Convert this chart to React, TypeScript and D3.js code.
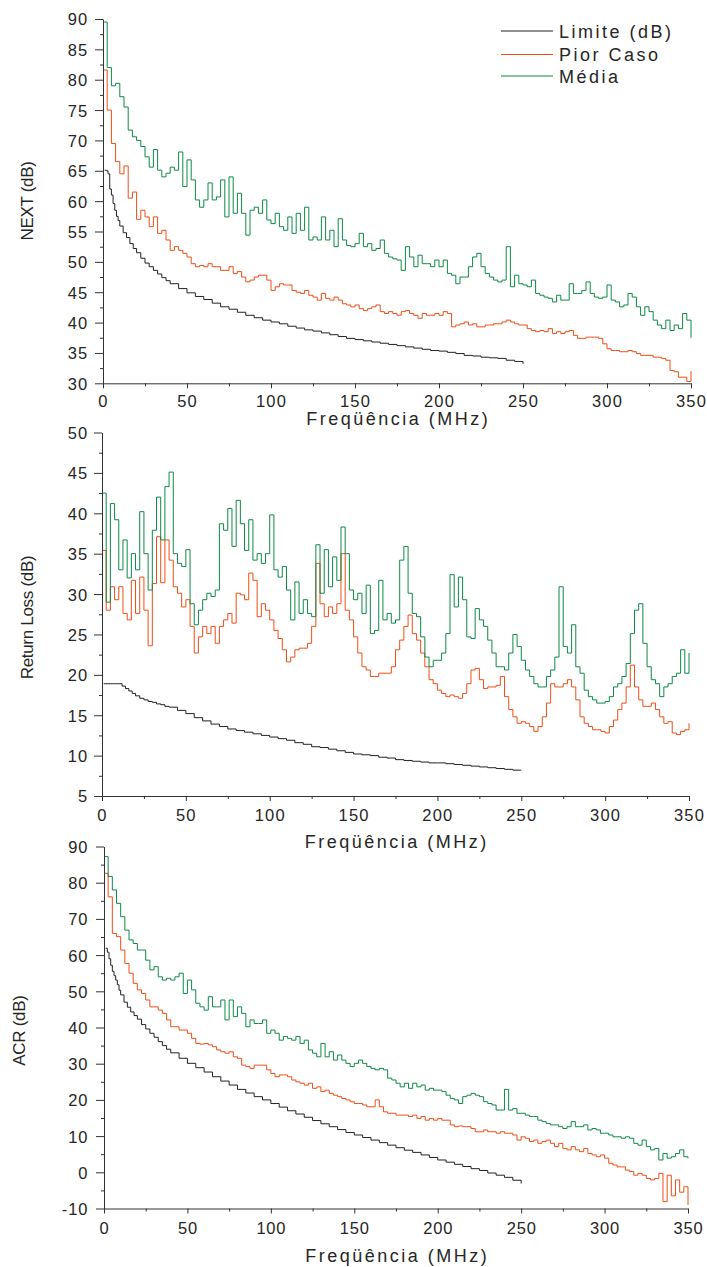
import { useEffect, useRef } from 'react';
import * as d3 from 'd3';

const FONT = "'Liberation Sans', Arial, Helvetica, sans-serif";
const COLORS = { limit: '#222222', worst: '#ef4e16', avg: '#0d8a46', axis: '#333333', text: '#262626' };

// eixo X comum a todos os painéis (MHz)
const X_TICKS = [0, 50, 100, 150, 200, 250, 300, 350];
const X_MINOR = [25, 75, 125, 175, 225, 275, 325];

// grade de frequência das medições (0,5 MHz e depois passos de 2,5 MHz)
const MEAS_F = d3.range(141).map((k) => (k === 0 ? 0.5 : k * 2.5));

// frequências da curva limite (até 250 MHz)
const LIMIT_F = [
  1, 2, 3, 4, 5, 6, 7, 8, 9, 10, 12, 14, 16, 18, 20, 22.5, 25, 27.5, 30, 32.5, 35, 37.5, 40,
  45, 50, 55, 60, 65, 70, 75, 80, 85, 90, 95, 100,
  105, 110, 115, 120, 125, 130, 135, 140, 145, 150,
  155, 160, 165, 170, 175, 180, 185, 190, 195, 200,
  205, 210, 215, 220, 225, 230, 235, 240, 245, 250,
];

const SERIES_NAMES = ['Limite (dB)', 'Pior Caso', 'Média'];

// ── NEXT ──
const NEXT_LIMIT = [
  65.1, 65, 64.5, 62, 61, 59.6, 58.5, 57.5, 56.8, 55.9, 54.8, 54, 53, 52.2, 51.5, 50.6, 49.8, 49.2, 48.6, 48, 47.4, 46.9, 46.4,
  45.6, 44.9, 44.3, 43.8, 43.2, 42.6, 42.2, 41.7, 41.2, 40.8, 40.4, 40.1,
  39.8, 39.4, 39.1, 38.8, 38.6, 38.3, 38, 37.7, 37.4, 37.2,
  37, 36.8, 36.6, 36.4, 36.2, 36, 35.8, 35.6, 35.4, 35.3,
  35.1, 34.9, 34.6, 34.5, 34.3, 34.2, 34.1, 33.8, 33.6, 33.2,
];
const NEXT_WORST = [
  81.6, 75, 69.5, 66.5, 64.5, 65.8, 60.5, 61.5, 57, 58.5,
  57.4, 55.8, 57.4, 54.7, 55.2, 53.6, 51.9, 52.5, 51.9, 51.4,
  50.8, 49.7, 49.2, 49.4, 49.2, 49.7, 49.2, 49.2, 48.6, 48.6,
  49.2, 48.1, 48.4, 47.5, 46.7, 47, 47.5, 47.8, 47.8, 47,
  45.3, 45.9, 46.4, 46.2, 46.2, 45.3, 45, 44.8, 45.3, 44.5,
  44.2, 43.7, 44.8, 44, 43.7, 44.2, 43.7, 43.1, 42.9, 42.6,
  42.9, 42.3, 42, 42.3, 42.6, 42.9, 41.8, 41.5, 41.8, 41.5,
  41.2, 41.8, 42, 41.5, 41.2, 40.7, 41.5, 41.2, 41.2, 41.5,
  41.2, 41.8, 41.5, 39.3, 39.6, 39.8, 40.1, 39.6, 39.8, 39.3,
  39.3, 39.6, 39.6, 39.8, 39.8, 40.1, 40.4, 40.1, 39.8, 39.6,
  39.6, 39, 38.7, 38.5, 38.7, 38.5, 39, 38.2, 38.5, 38.2,
  38.5, 38.7, 37.9, 37.4, 37.4, 37.6, 37.6, 37.6, 37.4, 36.5,
  35.7, 35.4, 35.4, 35.2, 35.2, 35.4, 35.2, 34.9, 34.6, 34.6,
  34.6, 34.3, 34.3, 34.1, 33.8, 32.1, 31.9, 31, 31, 30.3,
  32,
];
const NEXT_AVG = [
  89.5, 82, 79, 79.4, 77.2, 75.5, 71.7, 70.6, 70, 69,
  67.3, 65.6, 68.5, 65.1, 64, 64.6, 65.6, 65.1, 68.1, 62.4,
  66.8, 63.5, 60.2, 59, 60.2, 63, 60.2, 60.7, 63.5, 57.4,
  64, 58, 61.3, 58, 54.4, 58.5, 59, 58, 60.2, 56.9,
  56.3, 58, 55.8, 55.2, 57.4, 54.7, 58, 55.2, 59, 53.6,
  54.1, 53.6, 57.4, 53.6, 55.2, 52.5, 57.1, 53.6, 52.7, 52.5,
  53, 54.7, 52.5, 53, 51.9, 52.2, 53.6, 51.4, 50.8, 50.5,
  50.3, 48.6, 52.5, 50.8, 49.2, 51.1, 49.7, 49.7, 49.2, 50.3,
  49.2, 50.3, 48.1, 47.8, 46.4, 47.5, 47.5, 49.2, 50.8, 51.4,
  49.2, 48.1, 47.5, 47, 46.7, 47, 52.5, 45.9, 47.8, 46.4,
  46.2, 45.9, 47, 44.8, 44.5, 44.2, 44, 43.4, 44.5, 43.7,
  43.7, 46.4, 44.8, 44.8, 45.3, 46.7, 44.8, 44.2, 44, 44.2,
  46.2, 43.7, 43.4, 42.6, 42.9, 44.8, 44.2, 42.6, 41.2, 42.6,
  41.8, 40.4, 39.6, 39, 40.4, 38.7, 39.6, 39, 41.5, 40.4,
  37.5,
];

// ── Return Loss ──
const RL_LIMIT = [
  18.9, 18.9, 18.9, 18.9, 18.9, 18.9, 18.9, 18.9, 18.9, 18.9, 18.6, 18.3, 18, 17.7, 17.4, 17.1, 16.9, 16.7, 16.6, 16.4, 16.3, 16.1, 16,
  15.6, 15.2, 14.7, 14.3, 13.9, 13.6, 13.3, 13.1, 12.9, 12.7, 12.5, 12.3,
  12.1, 11.9, 11.6, 11.4, 11.1, 11, 10.8, 10.6, 10.4, 10.2,
  10.1, 10, 9.8, 9.7, 9.5, 9.4, 9.3, 9.2, 9.1, 9.1,
  9, 8.9, 8.8, 8.7, 8.6, 8.5, 8.4, 8.3, 8.2, 8.2,
];
const RL_WORST = [
  35.4, 28, 30.9, 29.3, 30.9, 27.6, 26.8, 31.7, 27.6, 32.1,
  28, 23.6, 31.3, 37.1, 31.4, 36.7, 34.2, 30.9, 30.1, 28.4,
  29.3, 26, 22.7, 24.7, 26, 25.1, 26, 23.9, 26, 26.8,
  27.6, 26.4, 30.1, 29.9, 29.3, 32.6, 31.7, 27.2, 28.8, 28,
  26.8, 25.5, 24.5, 23.1, 21.6, 22.2, 23.1, 23.3, 23.3, 23.9,
  26, 33.8, 28.8, 27.2, 28.4, 27.6, 28.8, 35, 28, 26.8,
  24.7, 22.7, 21, 20.6, 19.8, 19.8, 20.2, 20.2, 20.2, 21,
  23.1, 24.3, 26, 27.4, 25.1, 24.3, 22.7, 21, 19.4, 18.9,
  18.1, 17.7, 17.3, 17.5, 17.3, 17.1, 17.7, 18.9, 20.6, 20.8,
  19.4, 18.3, 18.5, 18.5, 18.7, 19.8, 17.3, 15.7, 14.8, 14,
  14.2, 14, 13.6, 13, 13.6, 14.8, 16.5, 18.9, 18.5, 18.5,
  18.9, 19.4, 18.5, 16.9, 14.8, 14, 13.6, 13.2, 13.2, 13,
  12.8, 13.6, 14.4, 15.7, 16.5, 18.5, 21.2, 18.5, 16.9, 16.1,
  16.1, 16.5, 15.7, 14.8, 14, 14.2, 12.8, 12.6, 13, 13.2,
  14,
];
const RL_AVG = [
  42.5, 29, 41.2, 39.2, 33, 36.7, 32, 35, 33, 40.2,
  35, 30.5, 37.9, 42, 36.7, 43.3, 45.1, 35, 33.8, 33.4,
  35.5, 28.8, 26.2, 28, 29.3, 30.1, 29.7, 30.5, 38.7, 37.9,
  40.6, 35.9, 41.6, 38.7, 35.4, 39.2, 34.2, 35, 33.8, 35,
  39.8, 33, 32.1, 33.4, 30.5, 26.8, 31.5, 27.6, 29.3, 27.6,
  27.2, 36.1, 30.1, 35.5, 30.9, 34.6, 31.7, 38.3, 35, 30.5,
  29.3, 30.1, 27.6, 31.1, 25.1, 25.5, 31.7, 26.8, 27.6, 26.4,
  26.8, 34.2, 35.9, 30.1, 27.6, 27.2, 24.7, 22.2, 21, 21.8,
  21.8, 22.7, 25.1, 32.4, 28.4, 32.1, 29.3, 24.7, 24.5, 28.2,
  26.8, 26, 24.3, 22.7, 21, 21, 20.6, 22.7, 25, 23.5,
  21.8, 20.6, 19.8, 18.9, 18.5, 18.5, 19.8, 20.6, 22.2, 30.9,
  23.5, 22.7, 26.2, 21, 20.2, 18.1, 17.3, 16.9, 16.5, 16.5,
  16.7, 17.3, 18.5, 18.9, 19.8, 21.4, 25.1, 28, 28.8, 23.9,
  21, 19.4, 18.9, 17.3, 18.5, 18.9, 19.8, 20.2, 23.1, 20.2,
  22.7,
];

// ── ACR ──
const ACR_LIMIT = [
  61.9, 60.8, 59, 57.2, 55.5, 54.3, 53.1, 51.8, 50.3, 49, 47, 45.6, 44.3, 43.3, 42.3, 40.8, 39.6, 38.4, 37.3, 36.1, 35, 34, 33,
  31.5, 30.1, 28.9, 27.7, 26.4, 25.2, 24.1, 22.9, 21.9, 20.9, 20, 19,
  18, 17, 16.1, 15.2, 14.3, 13.4, 12.6, 11.8, 11, 10.3,
  9.6, 8.9, 8.2, 7.5, 6.8, 6.1, 5.5, 4.8, 4.1, 3.4,
  2.8, 2.2, 1.6, 1, 0.5, -0.2, -0.8, -1.4, -2.2, -3.1,
];
const ACR_WORST = [
  82.6, 76.1, 66, 65.1, 61.4, 57.7, 55, 52.2, 50.4, 49.4,
  47.6, 45.7, 45.7, 44.8, 43.9, 42.1, 40.2, 40.2, 39.3, 39.3,
  38.4, 37, 35.6, 35.4, 35.6, 35.2, 34.7, 33.8, 33.3, 32.9,
  33.3, 31.9, 31.5, 29.6, 29.2, 28.7, 29.6, 29.6, 29.6, 28.3,
  27.3, 26.4, 26.9, 26.9, 26.4, 25.5, 25, 24.6, 24.1, 24.6,
  23.2, 23.6, 22.3, 22.7, 21.8, 21.3, 20.9, 20.4, 20, 19.5,
  19, 19, 18.6, 18.1, 18.1, 20, 18.1, 16.7, 16.3, 16.3,
  15.8, 15.8, 15.8, 15.4, 15.8, 14.9, 15.4, 14.4, 14.9, 14.4,
  14.9, 14.4, 14.4, 13.1, 12.6, 12.8, 12.6, 12.6, 12.1, 11.2,
  11.2, 11.7, 11.2, 11.2, 10.8, 11.2, 10.8, 10.8, 10.3, 8.9,
  9.8, 9.4, 8.5, 8.9, 8, 8.5, 8.9, 8, 7.1, 8,
  6.6, 6.2, 7.1, 6.2, 5.7, 6.6, 5.2, 4.8, 4.3, 4.8,
  3.9, 2.5, 2, 1.5, 1.5, 0.6, 0.2, -0.8, -0.3, -0.8,
  -1.7, -2.1, -1.7, -0.3, -8.1, -0.8, -6.5, -2.1, -5.5, -4,
  -9,
];
const ACR_AVG = [
  87.2, 81.7, 78, 74.3, 70.6, 66.9, 64.2, 63.2, 61.4, 61.4,
  58.6, 55.9, 56.8, 54, 53.1, 53.6, 53.1, 54, 55, 49.4,
  53.1, 50.4, 46.7, 45.7, 44.8, 48.5, 45.7, 45.7, 47.6, 42.1,
  47.6, 43, 45.7, 43.9, 40.2, 42.1, 41.1, 41.1, 42.1, 38.4,
  39.3, 38.4, 36.5, 37.5, 37, 36.5, 37.5, 35.6, 36.5, 33.8,
  32.9, 31.9, 35.6, 31.9, 33.3, 31, 32.4, 31, 30.1, 29.2,
  30.1, 31, 30.1, 29.2, 28.7, 28.3, 28.7, 28.3, 26, 25.5,
  24.6, 23.6, 24.6, 23.2, 24.6, 23.6, 24.1, 22.7, 23.2, 22.7,
  22.7, 22.3, 21.3, 20.4, 20, 19, 20.9, 21.3, 21.8, 21.3,
  20.9, 19.5, 19, 18.6, 17.2, 17.2, 22.9, 17.2, 17.6, 16.3,
  16.3, 15.8, 15.4, 15.4, 14.4, 14, 13.5, 13.1, 13.1, 12.6,
  12.1, 12.6, 14, 12.6, 12.6, 13.1, 11.7, 12.1, 11.7, 10.8,
  10.8, 10.3, 9.8, 9.8, 9.4, 9.8, 9.4, 8, 7.5, 8.9,
  7.1, 6.2, 6.6, 3.4, 5.2, 3.9, 4.3, 5.2, 6.2, 4.3,
  3.9,
];

interface PanelSpec {
  yTitle: string;
  limit: number[];
  worst: number[];
  avg: number[];
  yDomain: [number, number];
  yTicks: number[];
  yMinor: number[];
  left: number;
  right: number;
  top: number;
  bottom: number;
  tickSpacing: number; // letter-spacing dos rótulos
  xLabelOffset: number; // baseline dos rótulos X abaixo do eixo
  xTitleOffset: number;
  yTitleX: number;
  yTitleY: number;
  legend?: boolean;
}

const PANELS: PanelSpec[] = [
  {
    yTitle: 'NEXT (dB)', limit: NEXT_LIMIT, worst: NEXT_WORST, avg: NEXT_AVG,
    yDomain: [30, 90], yTicks: d3.range(30, 91, 5), yMinor: d3.range(32.5, 90, 5),
    left: 103, right: 691, top: 19, bottom: 383.3,
    tickSpacing: 1.2, xLabelOffset: 24, xTitleOffset: 41.5, yTitleX: 33, yTitleY: 201, legend: true,
  },
  {
    yTitle: 'Return Loss (dB)', limit: RL_LIMIT, worst: RL_WORST, avg: RL_AVG,
    yDomain: [5, 50], yTicks: d3.range(5, 51, 5), yMinor: d3.range(7.5, 50, 5),
    left: 102, right: 689, top: 432.5, bottom: 796,
    tickSpacing: 1.2, xLabelOffset: 25, xTitleOffset: 52, yTitleX: 33, yTitleY: 617.5,
  },
  {
    yTitle: 'ACR (dB)', limit: ACR_LIMIT, worst: ACR_WORST, avg: ACR_AVG,
    yDomain: [-10, 90], yTicks: d3.range(-10, 91, 10), yMinor: d3.range(-5, 90, 10),
    left: 104, right: 688, top: 846.5, bottom: 1208.5,
    tickSpacing: 0.8, xLabelOffset: 25, xTitleOffset: 53, yTitleX: 25, yTitleY: 1030.5,
  },
];

const LABEL_RIGHT = 87.3; // borda direita dos rótulos do eixo Y

function drawPanel(svg: d3.Selection<SVGSVGElement, unknown, null, undefined>, p: PanelSpec) {
  const x = d3.scaleLinear().domain([0, 350]).range([p.left, p.right]);
  const y = d3.scaleLinear().domain(p.yDomain).range([p.bottom, p.top]);
  const g = svg.append('g').attr('color', COLORS.axis);

  // ── ticks menores ──
  g.append('g')
    .attr('transform', `translate(${p.left},0)`)
    .call(d3.axisLeft(y).tickValues(p.yMinor).tickSize(3).tickFormat(() => ''))
    .call((s) => s.select('.domain').remove());
  g.append('g')
    .attr('transform', `translate(0,${p.bottom})`)
    .call(d3.axisBottom(x).tickValues(X_MINOR).tickSize(3).tickFormat(() => ''))
    .call((s) => s.select('.domain').remove());

  // ── eixos principais ──
  const yAxis = g.append('g')
    .attr('transform', `translate(${p.left},0)`)
    .call(d3.axisLeft(y).tickValues(p.yTicks).tickSize(8).tickSizeOuter(0).tickFormat((d) => `${d}`));
  yAxis.selectAll('text')
    .attr('x', LABEL_RIGHT - p.left + p.tickSpacing)
    .attr('dy', '0.36em')
    .attr('letter-spacing', p.tickSpacing)
    .attr('fill', COLORS.text);

  const xAxis = g.append('g')
    .attr('transform', `translate(0,${p.bottom})`)
    .call(d3.axisBottom(x).tickValues(X_TICKS).tickSize(5).tickSizeOuter(0).tickFormat((d) => `${d}`));
  xAxis.selectAll('text')
    .attr('y', p.xLabelOffset)
    .attr('dy', 0)
    .attr('letter-spacing', p.tickSpacing)
    .attr('fill', COLORS.text);

  g.selectAll('.tick text').attr('font-size', 16.5).attr('font-family', FONT);
  g.selectAll('path.domain, .tick line').attr('stroke-width', 1);

  // ── títulos ──
  svg.append('text')
    .attr('x', (p.left + p.right) / 2 + 1.2)
    .attr('y', p.bottom + p.xTitleOffset)
    .attr('text-anchor', 'middle')
    .attr('font-family', FONT)
    .attr('font-size', 18)
    .attr('letter-spacing', 2.5)
    .attr('fill', COLORS.text)
    .text('Freqüência (MHz)');

  svg.append('text')
    .attr('transform', `translate(${p.yTitleX},${p.yTitleY}) rotate(-90)`)
    .attr('text-anchor', 'middle')
    .attr('font-family', FONT)
    .attr('font-size', 17)
    .attr('letter-spacing', -0.3)
    .attr('fill', COLORS.text)
    .text(p.yTitle);

  // ── curvas em degrau ──
  const line = d3.line<[number, number]>()
    .x((d) => x(d[0]))
    .y((d) => y(d[1]))
    .curve(d3.curveStepAfter);

  const traces: { pts: [number, number][]; color: string }[] = [
    { pts: d3.zip(LIMIT_F, p.limit) as [number, number][], color: COLORS.limit },
    { pts: d3.zip(MEAS_F, p.worst) as [number, number][], color: COLORS.worst },
    { pts: d3.zip(MEAS_F, p.avg) as [number, number][], color: COLORS.avg },
  ];
  traces.forEach((t) => {
    svg.append('path')
      .datum(t.pts)
      .attr('d', line)
      .attr('fill', 'none')
      .attr('stroke', t.color)
      .attr('stroke-width', 1);
  });

  // ── legenda (só no primeiro painel) ──
  if (p.legend) {
    const rows = [31, 54.5, 76];
    const colors = [COLORS.limit, COLORS.worst, COLORS.avg];
    const lg = svg.append('g');
    SERIES_NAMES.forEach((name, i) => {
      lg.append('line')
        .attr('x1', 501).attr('x2', 553)
        .attr('y1', rows[i]).attr('y2', rows[i])
        .attr('stroke', colors[i])
        .attr('stroke-width', 1.2);
      lg.append('text')
        .attr('x', 559)
        .attr('y', rows[i] + 6.5)
        .attr('font-family', FONT)
        .attr('font-size', 18)
        .attr('letter-spacing', 2.5)
        .attr('fill', COLORS.text)
        .text(name);
    });
  }
}

export default function App() {
  const svgRef = useRef<SVGSVGElement>(null);

  useEffect(() => {
    if (!svgRef.current) return;
    const svg = d3.select(svgRef.current);
    svg.selectAll('*').remove();
    PANELS.forEach((p) => drawPanel(svg, p));
  }, []);

  return (
    <svg
      ref={svgRef}
      width={707}
      height={1267}
      style={{ position: 'absolute', left: 0, top: 0, background: '#ffffff' }}
    />
  );
}
